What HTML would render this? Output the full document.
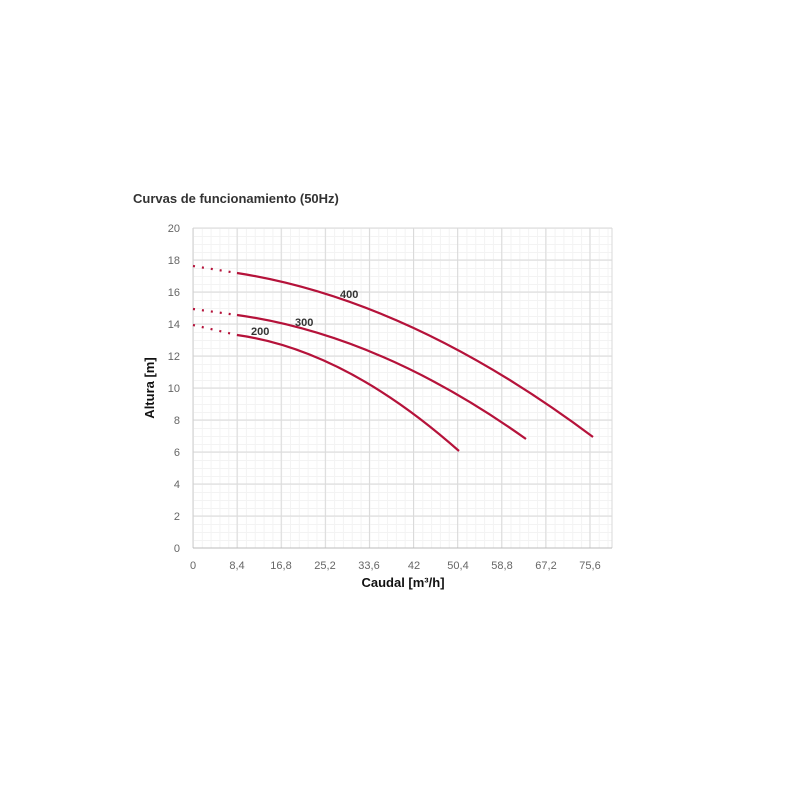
<!DOCTYPE html>
<html><head><meta charset="utf-8"><style>
body{margin:0;background:#fff;width:800px;height:800px;overflow:hidden}
text{font-family:"Liberation Sans",sans-serif}
</style></head><body>
<svg width="800" height="800" xmlns="http://www.w3.org/2000/svg">
<defs>
<pattern id="mx" x="193" y="0" width="8.82" height="800" patternUnits="userSpaceOnUse">
<line x1="0.5" y1="0" x2="0.5" y2="800" stroke="#f3f3f3" stroke-width="1"/></pattern>
<pattern id="my" x="0" y="228" width="800" height="8" patternUnits="userSpaceOnUse">
<line x1="0" y1="0.5" x2="800" y2="0.5" stroke="#f3f3f3" stroke-width="1"/></pattern>
</defs>
<text x="133" y="203" font-size="13" font-weight="bold" fill="#333" font-family="DejaVu Sans, sans-serif">Curvas de funcionamiento (50Hz)</text>
<rect x="193" y="228" width="419" height="320" fill="url(#mx)"/>
<rect x="193" y="228" width="419" height="320" fill="url(#my)"/>
<g stroke="#dadada" stroke-width="1">
<line x1="193" y1="228" x2="612" y2="228"/><line x1="193" y1="260" x2="612" y2="260"/>
<line x1="193" y1="292" x2="612" y2="292"/><line x1="193" y1="324" x2="612" y2="324"/>
<line x1="193" y1="356" x2="612" y2="356"/><line x1="193" y1="388" x2="612" y2="388"/>
<line x1="193" y1="420" x2="612" y2="420"/><line x1="193" y1="452" x2="612" y2="452"/>
<line x1="193" y1="484" x2="612" y2="484"/><line x1="193" y1="516" x2="612" y2="516"/>
<line x1="237.1" y1="228" x2="237.1" y2="548"/><line x1="281.2" y1="228" x2="281.2" y2="548"/>
<line x1="325.3" y1="228" x2="325.3" y2="548"/><line x1="369.4" y1="228" x2="369.4" y2="548"/>
<line x1="413.5" y1="228" x2="413.5" y2="548"/><line x1="457.6" y1="228" x2="457.6" y2="548"/>
<line x1="501.7" y1="228" x2="501.7" y2="548"/><line x1="545.8" y1="228" x2="545.8" y2="548"/>
<line x1="589.9" y1="228" x2="589.9" y2="548"/><line x1="612" y1="228" x2="612" y2="548"/>
</g>
<line x1="193" y1="228" x2="193" y2="548" stroke="#ccc"/>
<line x1="193" y1="548" x2="612" y2="548" stroke="#bbb"/>
<g font-size="11" fill="#666" text-anchor="end">
<text x="180" y="232">20</text><text x="180" y="264">18</text><text x="180" y="296">16</text>
<text x="180" y="328">14</text><text x="180" y="360">12</text><text x="180" y="392">10</text>
<text x="180" y="424">8</text><text x="180" y="456">6</text><text x="180" y="488">4</text>
<text x="180" y="520">2</text><text x="180" y="552">0</text>
</g>
<g font-size="11" fill="#666" text-anchor="middle">
<text x="193" y="569">0</text><text x="237" y="569">8,4</text><text x="281" y="569">16,8</text>
<text x="325" y="569">25,2</text><text x="369" y="569">33,6</text><text x="414" y="569">42</text>
<text x="458" y="569">50,4</text><text x="502" y="569">58,8</text><text x="546" y="569">67,2</text>
<text x="590" y="569">75,6</text>
</g>
<text x="403" y="587" font-size="13" font-weight="bold" fill="#111" text-anchor="middle">Caudal [m³/h]</text>
<text transform="translate(154,388) rotate(-90)" font-size="13" font-weight="bold" fill="#111" text-anchor="middle">Altura [m]</text>
<g fill="none" stroke="#b5123a" stroke-width="2.2">
<path d="M237 273 Q410 300 593 437"/>
<path d="M237 315 Q380 335 526 439"/>
<path d="M237 335 Q345 350 459 451"/>
</g>
<g fill="none" stroke="#b5123a" stroke-width="2.2" stroke-dasharray="2,7">
<path d="M193 266 L237 273"/><path d="M193 309 L237 315"/><path d="M193 325 L237 335"/>
</g>
<g font-size="11" font-weight="bold" fill="#333">
<text x="340" y="298">400</text><text x="295" y="326">300</text><text x="251" y="335">200</text>
</g>
</svg>
</body></html>
